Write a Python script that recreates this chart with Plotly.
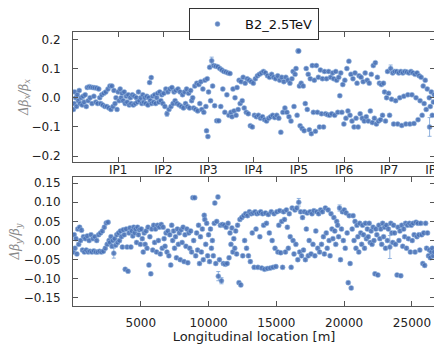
import plotly.graph_objects as go
from plotly.subplots import make_subplots

L = 26659.0
X_MAX = 26700.0

# ---- top panel: horizontal beta-beating (s [m], dbeta/beta) ----
top_pts = [
(30,-0.04),(80,-0.02),(120,0.02),(200,0.0),(260,-0.03),(320,0.01),(400,-0.01),(460,0.025),(520,-0.02),(600,0.0),(680,-0.025),(750,0.005),(820,-0.015),(900,0.01),(980,-0.03),(1050,0.035),(1120,-0.01),(1200,0.038),(1260,0.0),(1330,0.036),(1400,-0.02),(1470,0.035),(1540,0.005),(1600,0.034),(1680,-0.015),(1750,0.033),(1820,-0.02),(1900,0.03),(1970,0.0),(2050,-0.02),(2120,0.01),(2200,-0.025),(2280,0.015),(2350,-0.03),(2420,0.02),(2500,-0.03),(2580,0.03),(2650,-0.035),(2720,0.04),(2800,-0.04),(2870,0.04),(2950,-0.03),(3020,0.025),(3100,-0.02),(3170,0.0),(3250,-0.04),(3330,0.02),(3400,-0.01),(3480,0.03),(3550,0.0),(3620,0.015),(3700,-0.01),(3780,0.02),(3850,-0.02),(3930,0.005),(4000,-0.015),(4080,0.01),(4150,-0.025),(4230,0.0),(4300,-0.02),(4380,0.01),(4450,-0.025),(4530,0.005),(4600,-0.02),(4680,0.0),(4750,-0.015),(4830,0.02),(4900,-0.01),
(5000,0.0),(5080,-0.02),(5150,0.01),(5230,-0.015),(5300,0.0),(5380,-0.02),(5450,0.005),(5530,-0.025),(5600,0.0),(5650,0.052),(5700,-0.01),(5770,0.069),(5800,-0.02),(5880,0.005),(5950,-0.015),(6030,0.01),(6100,-0.02),(6180,0.0),(6250,0.015),(6330,-0.015),(6400,0.02),(6480,-0.01),(6550,0.01),(6630,-0.02),(6700,0.015),(6780,-0.03),(6850,0.03),(6930,-0.055),(7000,0.02),(7080,-0.04),(7150,0.03),(7230,-0.03),(7300,0.035),(7380,-0.02),(7450,0.02),(7530,-0.01),(7600,0.025),(7680,-0.02),(7750,0.03),(7830,-0.025),(7900,0.02),
(8000,-0.03),(8080,0.01),(8150,-0.035),(8230,0.02),(8300,-0.02),(8380,0.03),(8450,-0.03),(8530,0.015),(8600,-0.035),(8680,0.025),(8750,-0.01),(8830,0.0),(8900,-0.035),(8980,0.04),(9050,-0.04),(9130,0.05),(9200,-0.045),(9280,0.045),(9350,-0.02),(9430,0.055),(9500,-0.04),(9580,0.03),(9650,-0.05),(9730,0.06),(9800,-0.03),(9850,-0.113),(9900,0.065),(9950,-0.133),(10000,0.02),(10080,0.104),(10150,-0.01),(10230,0.127),(10300,0.04),(10380,0.11),(10450,-0.027),(10530,0.108),(10600,-0.079),(10680,0.106),(10750,-0.079),(10830,0.1),(10900,-0.03),(10980,0.095),
(11050,0.03),(11130,0.09),(11200,-0.05),(11280,0.088),(11350,0.01),(11430,0.085),(11500,-0.06),(11580,0.083),(11650,-0.05),(11730,-0.065),(11800,0.03),(11880,-0.045),(11950,0.0),(12030,-0.06),(12100,0.035),(12180,-0.04),(12250,0.06),(12330,-0.02),(12400,0.055),(12480,-0.01),(12550,0.07),(12630,-0.035),(12700,0.05),(12780,-0.05),(12850,0.065),(12930,-0.055),(13000,0.06),(13080,-0.096),(13150,0.055),(13230,-0.1),(13300,0.05),(13380,-0.06),(13450,0.065),(13530,-0.065),(13600,0.075),(13680,-0.06),(13750,0.08),(13830,-0.07),
(13900,0.085),(13980,-0.065),(14050,0.09),(14130,-0.075),(14200,0.085),(14280,-0.08),(14350,0.075),(14430,-0.07),(14500,0.07),(14580,-0.065),(14650,0.08),(14730,-0.06),(14800,0.07),(14880,-0.068),(14950,0.065),(15030,-0.06),(15100,0.075),(15180,-0.07),(15250,0.06),(15330,-0.118),(15400,0.07),(15480,-0.05),(15550,0.055),(15630,-0.035),(15700,0.07),(15780,-0.05),(15850,0.06),(15930,-0.065),(16000,0.05),(16080,-0.08),(16150,0.065),(16230,0.09),(16300,-0.03),(16380,0.08),(16450,0.1),(16530,-0.06),(16600,0.16),(16650,0.16),(16700,0.04),
(16750,-0.096),(16830,0.05),(16900,-0.105),(16980,0.04),(17050,-0.113),(17130,-0.02),(17200,0.1),(17280,-0.04),(17350,0.08),(17430,-0.11),(17500,0.065),(17580,-0.123),(17650,0.11),(17730,-0.05),(17800,0.06),(17880,-0.115),(17950,0.11),(18030,-0.05),(18100,0.07),(18180,-0.1),(18250,0.095),(18330,-0.055),(18400,0.065),(18480,-0.1),(18550,0.09),(18630,-0.055),(18700,0.065),(18780,-0.058),(18850,0.09),(18930,-0.06),(19000,0.07),(19080,-0.055),(19150,0.085),(19230,0.065),(19300,-0.06),(19380,0.09),(19450,0.06),(19530,-0.05),(19600,0.07),(19680,0.007),(19750,0.085),(19830,-0.05),(19900,0.045),(19980,-0.09),
(20050,0.06),(20130,-0.07),(20200,0.1),(20280,-0.045),(20350,0.125),(20430,-0.06),(20500,0.08),(20580,-0.08),(20650,0.065),(20730,-0.1),(20800,0.085),(20880,-0.07),(20950,0.05),(21030,-0.1),(21100,0.075),(21180,-0.055),(21250,0.07),(21330,-0.07),(21400,0.055),(21480,-0.08),(21550,0.085),(21630,-0.065),(21700,0.06),(21780,-0.08),(21850,0.05),(21930,-0.045),(22000,0.08),(22080,-0.085),(22150,0.11),(22230,-0.07),(22300,0.12),(22380,-0.09),(22450,0.07),(22530,-0.08),(22600,0.05),(22680,-0.075),(22750,0.045),(22830,-0.06),(22900,0.05),
(22980,0.02),(23050,-0.08),(23130,0.0),(23200,0.09),(23280,0.015),(23350,-0.06),(23430,0.1),(23500,-0.005),(23580,0.085),(23650,-0.09),(23730,0.09),(23800,-0.01),(23880,0.09),(23950,-0.09),(24030,0.085),(24100,0.0),(24180,0.09),(24250,-0.095),(24330,0.085),(24400,0.005),(24480,0.09),(24550,-0.09),(24630,0.088),(24700,0.01),(24780,0.085),(24850,-0.09),(24930,0.09),(25000,0.01),(25080,0.085),(25150,-0.088),(25230,0.08),(25300,0.0),(25380,0.085),(25450,-0.075),(25530,0.075),(25600,-0.01),(25680,0.07),(25750,-0.06),(25830,0.04),(25900,-0.02),(25980,0.06),(26050,-0.04),(26130,0.03),(26300,-0.1),(26280,0.0),(26350,-0.03),(26430,0.02),(26500,-0.06),(26580,-0.015),(26640,0.01),
]
top_big_err = {10230: 0.012, 23430: 0.012, 26300: 0.032, 16600: 0.006, 6930: 0.008}

# ---- bottom panel: vertical beta-beating ----
bot_pts = [
(30,-0.03),(90,0.015),(150,-0.02),(220,0.005),(290,-0.035),(350,0.03),(420,-0.01),(490,0.035),(560,0.0),(630,0.027),(700,-0.025),(770,0.01),(840,-0.03),(910,0.005),(980,-0.025),(1050,0.012),(1120,-0.03),(1190,0.0),(1260,-0.028),(1330,0.015),(1400,-0.03),(1470,0.005),(1540,-0.027),(1610,0.01),(1680,-0.03),(1750,0.0),(1820,-0.03),(1890,0.015),(1960,-0.028),(2030,0.02),(2100,-0.03),(2170,0.025),(2240,-0.028),(2310,0.035),(2380,-0.02),(2450,0.046),(2520,-0.01),(2590,0.048),(2660,0.0),(2730,-0.005),(2800,0.01),(2870,-0.015),(2940,0.0),(3010,-0.033),(3080,0.005),(3150,-0.012),(3220,0.015),(3290,-0.005),(3360,0.02),(3430,0.0),(3500,0.025),(3570,0.01),(3640,-0.017),(3710,0.028),(3780,0.015),(3850,-0.075),(3920,0.03),(3990,-0.017),(4060,-0.08),(4130,0.02),(4200,0.033),(4270,-0.017),(4340,0.025),(4410,0.012),(4480,0.035),(4550,0.02),(4620,0.03),(4690,-0.005),(4760,0.035),(4830,0.015),(4900,0.028),
(4970,-0.01),(5040,0.03),(5110,0.005),(5180,-0.03),(5250,0.02),(5320,-0.01),(5390,0.025),(5460,-0.02),(5530,0.035),(5600,-0.064),(5670,0.01),(5740,-0.087),(5810,0.03),(5880,-0.025),(5950,0.04),(6020,-0.005),(6090,0.03),(6160,-0.03),(6230,0.04),(6300,0.0),(6370,0.035),(6440,-0.035),(6510,0.042),(6580,-0.02),(6650,0.035),(6720,0.005),(6790,-0.015),(6860,0.02),(6930,-0.03),(7000,0.025),(7070,-0.04),(7140,0.015),(7210,-0.064),(7280,0.04),(7350,0.0),(7420,0.025),(7490,-0.02),(7560,0.01),(7630,-0.045),(7700,0.03),(7770,-0.01),(7840,0.02),(7910,-0.05),(7980,0.028),(8050,-0.005),(8120,0.035),(8190,-0.055),(8260,0.015),(8330,-0.015),(8400,0.03),(8470,-0.058),(8540,0.02),(8610,-0.02),(8680,0.025),(8750,-0.03),(8840,0.112),(8900,0.0),(8980,0.112),(9050,-0.04),(9120,0.02),
(9190,-0.025),(9260,0.04),(9330,-0.06),(9400,0.01),(9470,-0.03),(9540,0.03),(9610,-0.05),(9680,0.066),(9720,0.055),(9790,-0.01),(9860,0.045),(9930,-0.04),(10000,0.015),(10070,-0.055),(10140,0.03),(10210,-0.02),(10280,0.0),(10350,-0.04),(10420,0.045),(10460,0.098),(10530,-0.06),(10600,0.05),(10690,0.114),(10720,-0.093),(10800,-0.05),(10870,0.04),(10950,-0.105),(11020,0.042),(11090,-0.06),(11160,0.04),(11230,-0.062),(11300,0.035),(11370,-0.06),(11440,0.045),(11510,-0.045),(11580,0.02),(11650,-0.01),(11720,0.033),(11790,-0.03),(11860,0.005),(11930,-0.02),(12000,0.025),(12070,-0.035),(12140,0.04),(12240,-0.11),(12310,0.055),(12380,-0.116),(12450,0.06),(12520,-0.04),(12590,0.065),(12660,0.0),(12730,0.07),(12800,-0.02),(12870,0.065),(12940,-0.04),
(13010,0.075),(13080,-0.055),(13150,0.07),(13220,0.02),(13290,0.072),(13360,-0.07),(13430,0.075),(13500,0.03),(13570,0.07),(13640,-0.07),(13710,0.072),(13780,0.01),(13850,0.075),(13920,-0.072),(13990,0.07),(14060,0.04),(14130,-0.075),(14200,0.072),(14270,0.045),(14340,-0.073),(14410,0.068),(14480,0.02),(14550,-0.072),(14620,0.075),(14690,0.0),(14760,-0.07),(14830,0.07),(14900,-0.02),(14970,-0.068),(15040,0.075),(15110,-0.03),(15180,0.04),(15250,0.078),(15320,-0.032),(15390,0.05),(15460,-0.07),(15530,0.075),(15600,0.055),(15670,-0.03),(15740,0.08),(15810,0.035),(15880,-0.02),(15950,0.07),(16020,0.01),(16090,-0.07),(16160,0.085),(16230,0.0),(16300,-0.035),(16370,0.08),(16440,-0.01),(16510,0.085),(16580,-0.05),(16650,0.1),(16720,-0.03),(16790,0.075),(16860,-0.04),(16930,0.06),
(17000,-0.025),(17070,0.075),(17140,-0.05),(17210,0.03),(17280,0.072),(17350,-0.04),(17420,0.0),(17490,0.075),(17560,-0.035),(17630,0.07),(17700,-0.01),(17770,0.078),(17840,-0.04),(17910,0.025),(17980,0.075),(18050,-0.02),(18120,0.07),(18190,-0.03),(18260,0.08),(18330,-0.01),(18400,0.075),(18470,0.01),(18540,-0.035),(18610,0.085),(18680,0.02),(18750,-0.02),(18820,0.08),(18890,0.0),(18960,-0.04),(19030,0.07),(19100,0.03),(19170,0.005),(19240,0.06),(19310,0.025),(19380,-0.01),(19450,0.05),(19520,0.04),(19590,0.01),(19660,0.085),(19730,-0.05),(19800,0.03),(19870,0.075),(19940,0.0),(20010,0.08),(20080,-0.02),(20150,0.072),(20220,0.02),(20300,-0.11),(20370,0.065),(20440,-0.06),(20520,-0.124),(20590,0.03),(20660,0.065),(20730,0.0),(20800,0.05),
(20870,-0.02),(20940,0.04),(21010,0.01),(21080,-0.03),(21150,0.045),(21220,0.02),(21290,-0.01),(21360,0.04),(21430,0.015),(21500,-0.02),(21570,0.045),(21640,0.005),(21710,0.03),(21780,0.01),(21850,0.045),(21920,-0.005),(21990,0.025),(22060,-0.01),(22130,0.035),(22200,0.0),(22270,-0.087),(22340,0.03),(22410,0.015),(22490,-0.09),(22560,0.04),(22630,0.005),(22700,0.03),(22770,-0.01),(22840,0.045),(22910,0.01),(22980,0.035),(23050,-0.02),(23120,0.04),(23190,0.0),(23260,0.03),(23370,-0.017),(23440,0.045),(23510,0.02),(23580,-0.005),(23650,0.04),(23720,0.02),(23790,-0.01),(23900,-0.09),(23970,0.035),(24040,0.0),(24110,0.025),(24180,-0.092),(24250,0.04),(24320,-0.015),(24390,0.03),(24460,0.01),(24530,0.045),(24600,-0.02),(24670,0.04),(24740,0.005),(24810,0.045),(24880,-0.03),(24950,0.04),(25020,0.0),(25090,0.045),(25160,0.015),(25230,-0.03),(25300,0.048),(25370,0.01),(25440,0.045),(25510,0.015),(25580,-0.025),(25650,0.045),(25720,0.015),(25800,-0.06),(25870,0.02),(25940,-0.065),(26010,0.045),(26080,-0.02),(26150,0.02),(26220,-0.04),(26290,-0.025),(26360,-0.045),(26430,-0.03),(26500,-0.02),(26570,-0.04),(26640,-0.03),
]
bot_big_err = {3010: 0.013, 10720: 0.012, 16650: 0.01, 23370: 0.03, 19660: 0.008, 10950: 0.008}

ip_labels = ["IP1", "IP2", "IP3", "IP4", "IP5", "IP6", "IP7", "IP8"]
ip_pos = [L * (k + 1) / 8 for k in range(8)]
top_yticks = [-0.2, -0.1, 0.0, 0.1, 0.2]
bot_yticks = [-0.15, -0.10, -0.05, 0.0, 0.05, 0.10, 0.15]
bot_xticks = [5000, 10000, 15000, 20000, 25000]
label = "B2_2.5TeV"

BASE_ERR = 0.004
MC = "rgba(70,110,180,0.85)"
EC = "rgba(120,160,215,0.8)"

fig = make_subplots(rows=2, cols=1, vertical_spacing=0.055)

for row, pts, big, show in [(1, top_pts, top_big_err, True), (2, bot_pts, bot_big_err, False)]:
    xs = [p[0] for p in pts]
    ys = [p[1] for p in pts]
    es = [big.get(p[0], BASE_ERR) for p in pts]
    fig.add_trace(go.Scatter(
        x=xs, y=ys, mode="markers", name=label, showlegend=show,
        marker=dict(size=5, color=MC, line=dict(width=0.6, color="rgba(150,185,225,0.9)")),
        error_y=dict(type="data", array=es, visible=True, color=EC, thickness=1, width=2),
    ), row=row, col=1)

axis_common = dict(showline=True, linecolor="#555", linewidth=1, mirror="ticks",
                   ticks="inside", ticklen=5, tickcolor="#555", showgrid=False, zeroline=False,
                   ticklabeloverflow="allow",
                   tickfont=dict(family="DejaVu Sans", size=12, color="#222"))

fig.update_xaxes(range=[0, X_MAX], tickvals=ip_pos, ticktext=ip_labels, row=1, col=1,
                 ticklabelstandoff=-3, **axis_common)
fig.update_xaxes(range=[0, X_MAX], tickvals=bot_xticks, ticktext=[str(v) for v in bot_xticks],
                 row=2, col=1, ticklabelstandoff=6,
                 title=dict(text="Longitudinal location [m]", standoff=4,
                            font=dict(family="DejaVu Sans", size=13, color="#222")), **axis_common)
fig.update_yaxes(range=[-0.22, 0.225], tickvals=top_yticks, tickformat=".1f", row=1, col=1,
                 ticklabelstandoff=9,
                 title=dict(text="<i>Δβ<sub>x</sub>/β<sub>x</sub></i>", standoff=0,
                            font=dict(family="DejaVu Serif", size=12, color="#888")), **axis_common)
fig.update_yaxes(range=[-0.171, 0.166], tickvals=bot_yticks, tickformat=".2f", row=2, col=1,
                 ticklabelstandoff=9,
                 title=dict(text="<i>Δβ<sub>y</sub>/β<sub>y</sub></i>", standoff=0,
                            font=dict(family="DejaVu Serif", size=12, color="#888")), **axis_common)

fig.update_layout(
    width=442, height=336,
    margin=dict(l=65, r=15, t=24, b=38, autoexpand=False),
    paper_bgcolor="white", plot_bgcolor="white",
    font=dict(family="DejaVu Sans", color="#222"),
    legend=dict(x=0.5, xanchor="center", y=1.0876, yanchor="top",
                bordercolor="#333", borderwidth=1, bgcolor="white", itemwidth=45,
                font=dict(size=13, color="#111"), orientation="h"),
)
fig.layout.yaxis.domain = [0.5255, 1.0]
fig.layout.yaxis2.domain = [0.0, 0.4708]

fig.write_html("out.html")
